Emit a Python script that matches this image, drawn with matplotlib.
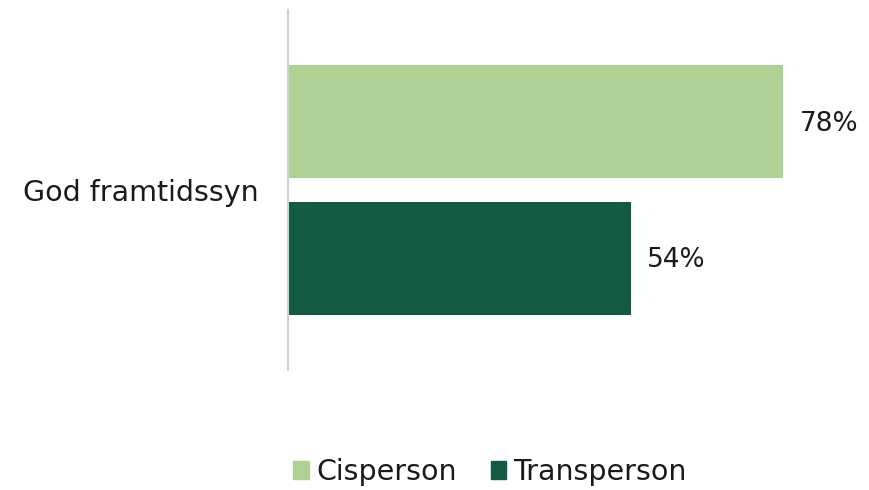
import matplotlib
matplotlib.use("Agg")
import matplotlib.pyplot as plt
from matplotlib.patches import Patch

categories = ["God framtidssyn"]
series_names = ["Cisperson", "Transperson"]
cis_values = [78]
trans_values = [54]
colors = ["#AED094", "#145A41"]

plt.rcParams['font.family'] = ['DejaVu Sans']

fig = plt.figure(figsize=(8.69, 4.9), dpi=100)
W, H = 869, 490
ax = fig.add_axes([288 / W, 1 - 370 / H, (859.5 - 288) / W, 360 / H])

bar_h = 0.314
off = 0.189
ypos = list(range(len(categories)))
for vals, name, col, o in [(cis_values, series_names[0], colors[0], -off),
                           (trans_values, series_names[1], colors[1], off)]:
    ys = [y + o for y in ypos]
    bars = ax.barh(ys, vals, height=bar_h, color=col, label=name)
    for b, v in zip(bars, vals):
        ax.text(b.get_width() + 2.6, b.get_y() + b.get_height() / 2 + 0.005, f"{v}%",
                va="center", ha="left", fontsize=19, color="#1a1a1a")

ax.set_xlim(0, 90)
ax.set_ylim(0.5, -0.5)
ax.set_yticks(ypos)
ax.set_yticklabels(categories, fontsize=20.5, color="#1a1a1a")
ax.tick_params(axis="y", length=0, pad=21)
ax.set_xticks([])
for s in ["top", "right", "bottom"]:
    ax.spines[s].set_visible(False)
ax.spines["left"].set_color("#d0d0d0")
ax.spines["left"].set_linewidth(1.5)

handles = [Patch(color=colors[0], label=series_names[0]),
           Patch(color=colors[1], label=series_names[1])]
fig.legend(handles=handles, loc="center", bbox_to_anchor=(490 / W, 1 - 472 / H),
           ncol=2, frameon=False, fontsize=20.5, handlelength=0.55, handleheight=0.55,
           handletextpad=0.25, columnspacing=1.2, labelcolor="#1a1a1a")

fig.savefig("out.png", dpi=100)
